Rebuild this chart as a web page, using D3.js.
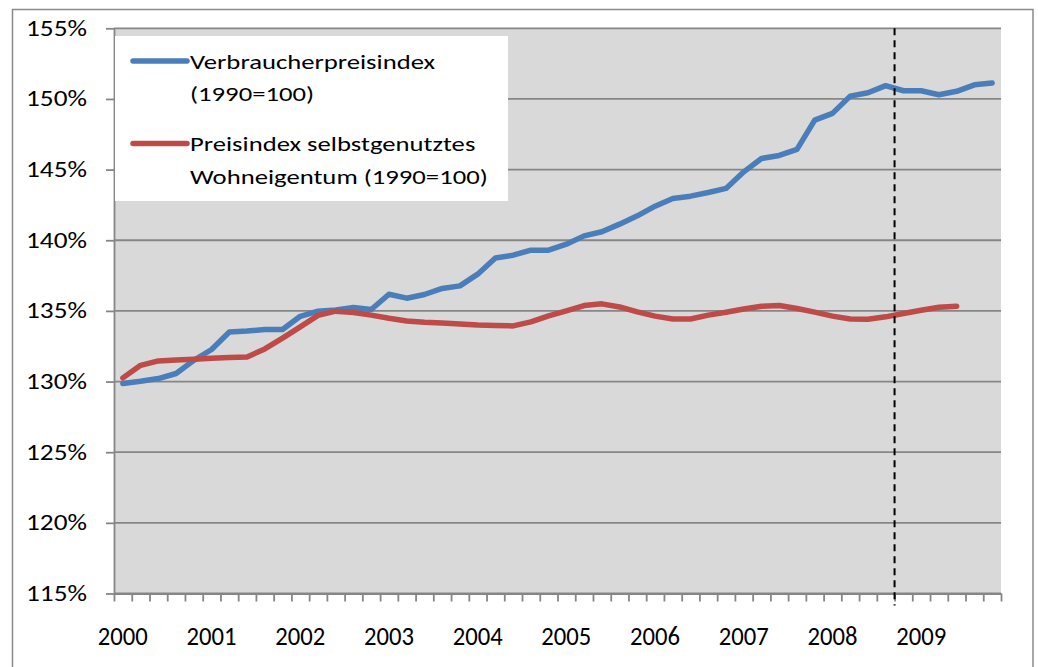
<!DOCTYPE html>
<html>
<head>
<meta charset="utf-8">
<script src="https://cdn.jsdelivr.net/npm/d3@7"></script>
<style>
  body { margin: 0; background: #fff; }
  svg text { font-family: Calibri, Carlito, Lato, sans-serif; fill: #000; }
</style>
</head>
<body>
<svg id="chart" width="1038" height="667"></svg>
<script>
// 50 periods, 5 per year, labelled once per year
var years = ["2000","2001","2002","2003","2004","2005","2006","2007","2008","2009"];
var periodsPerYear = 5;

var yTicks = [115,120,125,130,135,140,145,150,155];

// Verbraucherpreisindex (1990=100)
var cpi = [129.86,130.02,130.21,130.57,131.50,132.27,133.51,133.58,133.68,133.68,
           134.62,134.98,135.07,135.24,135.10,136.18,135.90,136.16,136.59,136.77,
           137.60,138.75,138.94,139.30,139.30,139.72,140.31,140.60,141.14,141.73,
           142.41,142.96,143.12,143.38,143.67,144.84,145.79,146.00,146.43,148.50,
           148.98,150.20,150.44,150.94,150.58,150.58,150.30,150.54,151.00,151.13];

// Preisindex selbstgenutztes Wohneigentum (1990=100)
var housing = [130.26,131.15,131.46,131.52,131.58,131.65,131.70,131.74,132.31,133.07,
               133.87,134.68,134.98,134.89,134.70,134.48,134.29,134.20,134.15,134.08,
               134.01,133.97,133.94,134.22,134.65,135.00,135.38,135.50,135.28,134.93,
               134.63,134.43,134.43,134.70,134.91,135.14,135.33,135.38,135.17,134.91,
               134.63,134.43,134.41,134.58,134.82,135.05,135.26,135.33];

var markerPeriod = 44; // dashed line at start of this period

var seriesNames = [["Verbraucherpreisindex", "(1990=100)"],
                   ["Preisindex selbstgenutztes", "Wohneigentum (1990=100)"]];
var seriesColors = ["#4A7EBB", "#BE4B48"];

var nPeriods = years.length * periodsPerYear;
var plot = {left: 114, top: 28.3, right: 1001, bottom: 593.5};

// the original text is a bit wider (or narrower) than the font here, so stretch it
function stretch(sel, sx) {
  sel.each(function() {
    var t = d3.select(this);
    t.attr("x", (+t.attr("x") || 0) / sx)
     .attr("transform", "scale(" + sx + ",1)");
  });
}

var svg = d3.select("#chart");

// outer chart frame
svg.append("rect")
  .attr("x", 12.5).attr("y", 9.5)
  .attr("width", 1020.5).attr("height", 700)
  .attr("fill", "#fff")
  .attr("stroke", "#8a8a8a")
  .attr("stroke-width", 1.5);

var y = d3.scaleLinear().domain([115, 155]).range([plot.bottom, plot.top]);
var xEdge = d3.scaleLinear().domain([0, nPeriods]).range([plot.left, plot.right]);
var xMid = i => xEdge(i + 0.5);

// plot area
svg.append("rect")
  .attr("x", plot.left).attr("y", plot.top)
  .attr("width", plot.right - plot.left)
  .attr("height", plot.bottom - plot.top)
  .attr("fill", "#D9D9D9");

// gridlines
svg.append("g")
  .selectAll("line")
  .data(yTicks)
  .enter().append("line")
  .attr("x1", plot.left).attr("x2", plot.right)
  .attr("y1", d => y(d)).attr("y2", d => y(d))
  .attr("stroke", "#868686")
  .attr("stroke-width", 1.8);

// y axis
var yAxis = svg.append("g")
  .attr("transform", "translate(" + plot.left + ",0)")
  .call(d3.axisLeft(y).tickValues(yTicks).tickSize(8).tickSizeOuter(0)
        .tickPadding(19).tickFormat(d => d + "%"));
yAxis.selectAll("line, path").attr("stroke", "#868686").attr("stroke-width", 1.8);
yAxis.selectAll("text").style("font-size", "22px").attr("fill", "#000")
  .call(stretch, 1.24);

// x axis: tick at every period boundary, label per year
var xAxis = svg.append("g")
  .attr("transform", "translate(0," + plot.bottom + ")")
  .call(d3.axisBottom(xEdge).tickValues(d3.range(0, nPeriods + 1))
        .tickSize(8).tickSizeOuter(0).tickFormat(""));
xAxis.selectAll("line, path").attr("stroke", "#868686").attr("stroke-width", 1.8);

svg.append("g")
  .selectAll("text")
  .data(years)
  .enter().append("text")
  .attr("x", (d, i) => xMid(i * periodsPerYear))
  .attr("y", 645)
  .attr("text-anchor", "middle")
  .style("font-size", "26px")
  .text(d => d)
  .call(stretch, 0.95);

// series lines
var line = d3.line()
  .x((d, i) => xMid(i))
  .y(d => y(d));

[cpi, housing].forEach(function(values, k) {
  svg.append("path")
    .datum(values)
    .attr("d", line)
    .attr("fill", "none")
    .attr("stroke", seriesColors[k])
    .attr("stroke-width", 5.5)
    .attr("stroke-linejoin", "round")
    .attr("stroke-linecap", "round");
});

// dashed marker
svg.append("line")
  .attr("x1", xEdge(markerPeriod)).attr("x2", xEdge(markerPeriod))
  .attr("y1", plot.top).attr("y2", plot.bottom + 12)
  .attr("stroke", "#000")
  .attr("stroke-width", 2)
  .attr("stroke-dasharray", "7,5");

// legend
var legend = svg.append("g");
legend.append("rect")
  .attr("x", 115).attr("y", 36)
  .attr("width", 393).attr("height", 165)
  .attr("fill", "#fff");

var legendRows = [61, 143.5];
seriesNames.forEach(function(lines, k) {
  var g = legend.append("g").attr("transform", "translate(0," + legendRows[k] + ")");
  g.append("line")
    .attr("x1", 133).attr("x2", 187)
    .attr("y1", 0).attr("y2", 0)
    .attr("stroke", seriesColors[k])
    .attr("stroke-width", 5.5)
    .attr("stroke-linecap", "round");
  g.selectAll("text")
    .data(lines)
    .enter().append("text")
    .attr("x", 190)
    .attr("y", (d, i) => 7.5 + i * 33)
    .style("font-size", "21px")
    .text(d => d)
    .call(stretch, 1.27);
});
</script>
</body>
</html>
